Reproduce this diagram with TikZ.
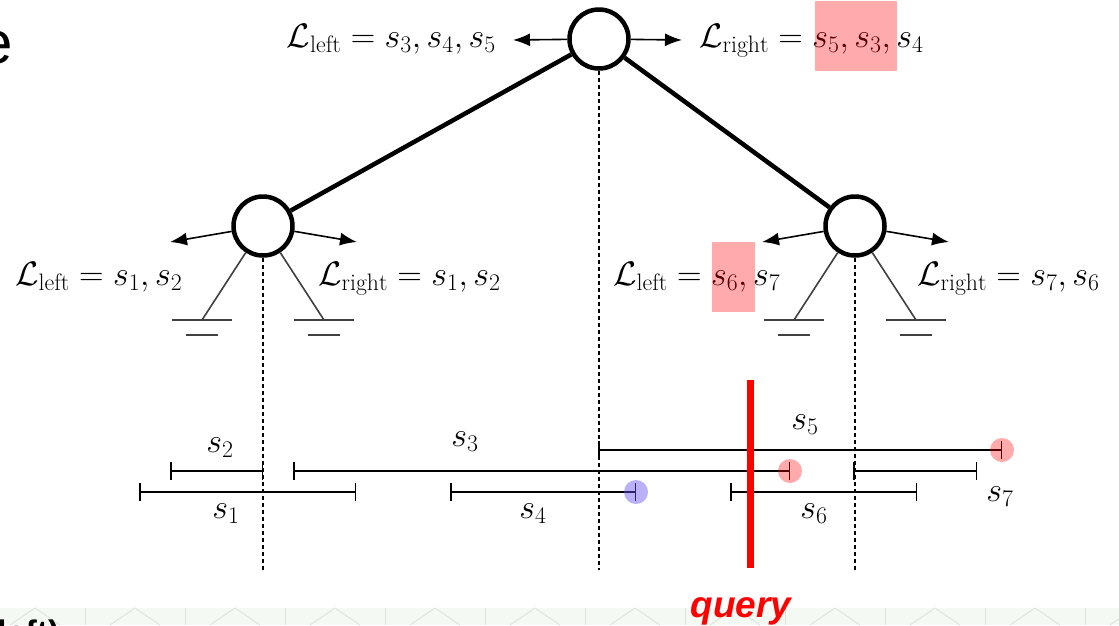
\RequirePackage{fix-cm}
\documentclass[tikz,border=0pt]{standalone}
\usepackage{fontspec}
\newfontfamily\arialf{Liberation Sans}
\usetikzlibrary{arrows.meta}
\definecolor{bandc}{RGB}{244,249,244}
\definecolor{bandl}{RGB}{222,228,222}
\definecolor{bluedot}{RGB}{100,80,240}
\begin{document}
\begin{tikzpicture}[x=1pt,y=-1pt,
  treenode/.style={circle,draw,line width=4.5pt,minimum size=59pt,inner sep=0pt},
  edge/.style={line width=4.5pt},
  outarrow/.style={line width=1.6pt,-{Latex[length=17pt,width=13pt]}},
  lbl/.style={inner sep=0pt,font=\fontsize{34}{40}\selectfont},
  gnd/.style={line width=1.6pt,draw=black!75},
  vdash/.style={line width=1.5pt,dash pattern=on 4pt off 3pt},
  ival/.style={line width=1.5pt,{Bar[width=18pt,line width=1.5pt]}-{Bar[width=18pt,line width=1.5pt]}},
  hl/.style={fill=red,fill opacity=0.33},
  bluehl/.style={fill=bluedot,fill opacity=0.45},
  querytxt/.style={inner sep=0pt,text=red,font=\arialf\bfseries\itshape\fontsize{37}{40}\selectfont}
]
\clip (0,0) rectangle (1119,625);
\fill[white] (0,0) rectangle (1119,625);
% background band at bottom
\fill[bandc] (0,608) rectangle (1119,625);
\foreach \x in {0,100,...,1100} {
  \draw[bandl,line width=1pt] (\x+10,625) -- (\x+35,608) -- (\x+60,625);
  \draw[bandl,line width=1pt] (\x+85,608) -- (\x+85,625);
}
% cut-off slide texts
\node[anchor=base west,inner sep=0pt,font=\arialf\fontsize{60}{60}\selectfont] (etxt) at (-21,63) {e};
\node[anchor=base west,inner sep=0pt,font=\arialf\bfseries\fontsize{34}{34}\selectfont] (lefttxt) at (-3,644) {left)};

% tree nodes
\node[treenode] (root) at (599,39) {};
\node[treenode] (lc) at (263,226) {};
\node[treenode] (rc) at (855,226) {};
\draw[edge] (root) -- (lc);
\draw[edge] (root) -- (rc);

% output arrows
\coordinate (rootL) at (513,40);
\coordinate (rootR) at (682,40);
\coordinate (lcL) at (170,242);
\coordinate (lcR) at (357,242);
\coordinate (rcL) at (762,242);
\coordinate (rcR) at (949,242);
\draw[outarrow] (root) -- (rootL);
\draw[outarrow] (root) -- (rootR);
\draw[outarrow] (lc) -- (lcL);
\draw[outarrow] (lc) -- (lcR);
\draw[outarrow] (rc) -- (rcL);
\draw[outarrow] (rc) -- (rcR);

% labels
\node[lbl,anchor=base east] (rootLl) at (496,47) {$\mathcal{L}_{\mathrm{left}} = s_3, s_4, s_5$};
\node[lbl,anchor=base west] (rootRl) at (699,47) {$\mathcal{L}_{\mathrm{right}} = s_5, s_3, s_4$};
\node[lbl,anchor=base west] (lcLl) at (15,285) {$\mathcal{L}_{\mathrm{left}} = s_1, s_2$};
\node[lbl,anchor=base west] (lcRl) at (318,285) {$\mathcal{L}_{\mathrm{right}} = s_1, s_2$};
\node[lbl,anchor=base west] (rcLl) at (613,285) {$\mathcal{L}_{\mathrm{left}} = s_6, s_7$};
\node[lbl,anchor=base west] (rcRl) at (917,285) {$\mathcal{L}_{\mathrm{right}} = s_7, s_6$};
\fill[hl] (815,1) rectangle (897,71);
\fill[hl] (712,242) rectangle (755,312);

% ground symbols
\foreach \g/\gx in {lg1/202,lg2/324,rg1/794,rg2/916} {
  \coordinate (\g) at (\gx,320);
  \draw[gnd] (\gx-30,320) -- (\gx+30,320);
  \draw[gnd] (\gx-16,335) -- (\gx+16,335);
}
\draw[gnd] (lc) -- (lg1);
\draw[gnd] (lc) -- (lg2);
\draw[gnd] (rc) -- (rg1);
\draw[gnd] (rc) -- (rg2);

% dashed split lines
\coordinate (bot) at (0,570);
\draw[vdash] (root.south) -- (root |- bot);
\draw[vdash] (lc.south) -- (lc |- bot);
\draw[vdash] (rc.south) -- (rc |- bot);

% intervals
\foreach \n/\a/\b/\y in {1/139/356/492, 2/170/263/471, 3/293/790/471, 4/450/636/492, 5/598/1002/450, 6/730/917/492, 7/853/977/471} {
  \coordinate (s\n a) at (\a,\y);
  \coordinate (s\n b) at (\b,\y);
  \draw[ival] (s\n a) -- (s\n b);
}
\node[lbl] (l1) at (226,514) {$s_1$};
\node[lbl] (l2) at (220,448) {$s_2$};
\node[lbl] (l3) at (465,442) {$s_3$};
\node[lbl] (l4) at (533,514) {$s_4$};
\node[lbl] (l5) at (805,425) {$s_5$};
\node[lbl] (l6) at (814,514) {$s_6$};
\node[lbl] (l7) at (1000,497) {$s_7$};

% end markers
\fill[hl] (s3b) circle (12pt);
\fill[hl] (s5b) circle (12pt);
\fill[bluehl] (s4b) circle (12pt);

% query line
\coordinate (qtop) at (750,380);
\coordinate (qbot) at (750,568);
\draw[red,line width=7pt] (qtop) -- (qbot);
\node[querytxt,anchor=base] (qlbl) at (741,617) {query};
\end{tikzpicture}
\end{document}
